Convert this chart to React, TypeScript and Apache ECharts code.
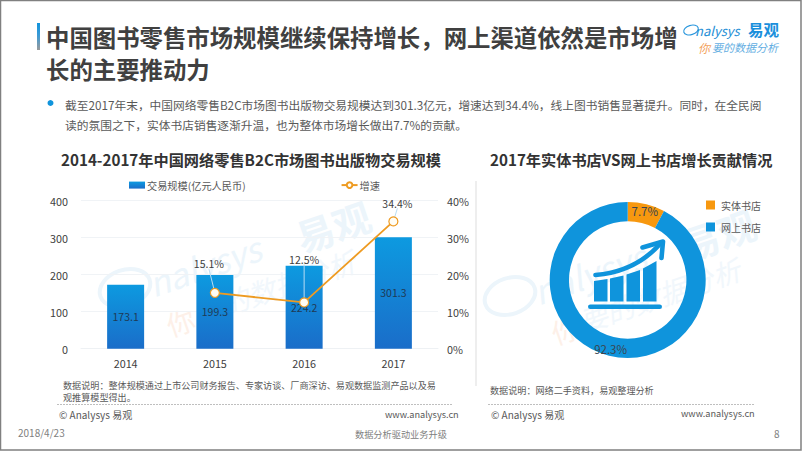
import React, { useEffect, useRef } from "react";
import * as echarts from "echarts";

const FONT = '"Noto Sans CJK SC", "Noto Sans", sans-serif';

const years = ["2014", "2015", "2016", "2017"];
const scaleValues = [173.1, 199.3, 224.2, 301.3];
const growthValues = [null, 15.1, 12.5, 34.4];
const barName = "交易规模(亿元人民币)";
const lineName = "增速";
const shareNames = ["实体书店", "网上书店"];
const shareValues = [7.7, 92.3];
const leftTicks = [0, 400, 100];
const rightTicks = [0, 40, 10];
const pageTitle = "中国图书零售市场规模继续保持增长，网上渠道依然是市场增\n长的主要推动力";
const bulletLine1 = "截至2017年末，中国网络零售B2C市场图书出版物交易规模达到301.3亿元，增速达到34.4%，线上图书销售显著提升。同时，在全民阅";
const bulletLine2 = "读的氛围之下，实体书店销售逐渐升温，也为整体市场增长做出7.7%的贡献。";
const leftTitle = "2014-2017年中国网络零售B2C市场图书出版物交易规模";
const rightTitle = "2017年实体书店VS网上书店增长贡献情况";
const leftNote1 = "数据说明：整体规模通过上市公司财务报告、专家访谈、厂商深访、易观数据监测产品以及易";
const leftNote2 = "观推算模型得出。";
const rightNote = "数据说明：网络二手资料，易观整理分析";
const copyright = "© Analysys 易观";
const website = "www.analysys.cn";
const dateText = "2018/4/23";
const sloganText = "数据分析驱动业务升级";
const pageNumber = "8";

const txt = (x: number, y: number, text: string, fontSize: number, fill: string, extra: any = {}) => ({
  type: "text",
  x,
  y,
  silent: true,
  ...extra.el,
  style: { text, fontSize, fill, fontFamily: FONT, textVerticalAlign: "middle", textBaseline: "middle", ...extra.style },
});

const watermark = (ox: number, oy: number) => {
  const rot = 0.33;
  const blue = "#ecf5fb";
  const pale = "#f1f7fc";
  return [
    { type: "ellipse", x: ox, y: oy, rotation: rot, silent: true, z: -1, shape: { cx: 0, cy: 0, rx: 26, ry: 18 }, style: { fill: "none", stroke: blue, lineWidth: 4 } },
    txt(ox + 24, oy - 4, "nalysys", 34, blue, { el: { rotation: rot, z: -1 }, style: { fontStyle: "italic" } }),
    txt(ox + 172, oy - 50, "易观", 38, blue, { el: { rotation: rot, z: -1 }, style: { fontWeight: "bold" } }),
    txt(ox + 42, oy + 38, "你", 28, "#fdf0e8", { el: { rotation: rot, z: -1 } }),
    txt(ox + 70, oy + 26, "要的数据分析", 28, pale, { el: { rotation: rot, z: -1 }, style: { fontStyle: "italic" } }),
  ];
};

export default function App() {
  const ref = useRef<HTMLDivElement>(null);
  useEffect(() => {
    document.body.style.margin = "0";
    const chart = echarts.init(ref.current!, undefined, { renderer: "svg" });
    const barGrad = new echarts.graphic.LinearGradient(0, 0, 0, 1, [
      { offset: 0, color: "#0d9ae0" },
      { offset: 1, color: "#1a6dc9" },
    ]);
    const labelShift = [
      { dx: 0, dy: 0 },
      { dx: -6, dy: -13 },
      { dx: 0, dy: -27 },
      { dx: 4, dy: -2 },
    ];
    const iconBlue = "#0f94dc";
    const icon = { z: 10, silent: true };
    chart.setOption({
      animation: false,
      backgroundColor: "#ffffff",
      textStyle: { fontFamily: FONT },
      title: [
        { text: pageTitle, left: 46, top: 21, padding: 0, textStyle: { fontFamily: FONT, fontSize: 23.4, fontWeight: "bold", color: "#404040", lineHeight: 32 } },
        { text: leftTitle, left: 61, top: 151, padding: 0, textStyle: { fontFamily: FONT, fontSize: 15.2, fontWeight: "bold", color: "#333333" } },
        { text: rightTitle, left: 490, top: 151, padding: 0, textStyle: { fontFamily: FONT, fontSize: 15.2, fontWeight: "bold", color: "#333333" } },
      ],
      legend: [
        {
          data: [
            { name: barName, icon: "rect" },
            { name: lineName },
          ],
          left: 129,
          top: 180,
          itemWidth: 16,
          itemHeight: 7,
          itemGap: 95,
          padding: 0,
          textStyle: { fontFamily: FONT, fontSize: 10.2, color: "#595959", padding: [0, 0, 0, -3] },
        },
        {
          data: shareNames,
          orient: "vertical",
          left: 706,
          top: 200,
          icon: "rect",
          itemWidth: 9,
          itemHeight: 9,
          itemGap: 12,
          padding: 0,
          textStyle: { fontFamily: FONT, fontSize: 10, color: "#595959", padding: [0, 0, 0, 1] },
        },
      ],
      grid: { left: 81, top: 200.7, width: 357, height: 148 },
      xAxis: {
        type: "category",
        data: years,
        axisLine: { lineStyle: { color: "#eef1f4" } },
        axisTick: { show: false },
        axisLabel: { fontFamily: FONT, fontSize: 10.8, color: "#404040", margin: 9 },
      },
      yAxis: [
        {
          type: "value",
          min: leftTicks[0],
          max: leftTicks[1],
          interval: leftTicks[2],
          axisLine: { show: false },
          axisTick: { show: false },
          splitLine: { lineStyle: { color: "#f0f3f6" } },
          axisLabel: { fontFamily: FONT, fontSize: 10.8, color: "#404040", margin: 13 },
        },
        {
          type: "value",
          min: rightTicks[0],
          max: rightTicks[1],
          interval: rightTicks[2],
          axisLine: { show: false },
          axisTick: { show: false },
          splitLine: { show: false },
          axisLabel: { fontFamily: FONT, fontSize: 10.8, color: "#404040", margin: 9, formatter: "{value}%" },
        },
      ],
      series: [
        {
          name: barName,
          type: "bar",
          data: scaleValues,
          barWidth: 37,
          z: 2,
          itemStyle: { color: barGrad },
          label: { show: true, position: "inside", fontFamily: FONT, fontSize: 10.5, color: "#1f3a55", formatter: (p: any) => p.value.toFixed(1) },
        },
        {
          name: lineName,
          type: "line",
          yAxisIndex: 1,
          data: growthValues,
          z: 4,
          symbol: "circle",
          symbolSize: 9,
          connectNulls: false,
          lineStyle: { color: "#ee9b22", width: 1.8 },
          itemStyle: { color: "#fffdf5", borderColor: "#ee9b22", borderWidth: 1.2 },
          label: { show: true, position: "top", distance: 6, fontFamily: FONT, fontSize: 10.5, color: "#404040", formatter: (p: any) => `${p.value}%` },
          labelLine: { show: true, lineStyle: { color: "#b8ddf4", width: 1 } },
          labelLayout: (p: any) => labelShift[p.dataIndex],
        },
        {
          type: "pie",
          center: [627.7, 280],
          radius: [58.7, 78],
          startAngle: 90,
          data: shareNames.map((name, i) => ({ name, value: shareValues[i] })),
          color: ["#f7980f", "#0f94dc"],
          z: 3,
          label: { show: true, position: "inside", fontFamily: FONT, fontSize: 11.5, color: "#3a4650", formatter: (p: any) => `${p.value}%` },
          labelLine: { show: false },
          itemStyle: { borderWidth: 0 },
        },
      ],
      graphic: [
        { type: "rect", silent: true, shape: { x: 0.5, y: 0.5, width: 800.5, height: 449.5 }, style: { fill: "none", stroke: "#808080", lineWidth: 1.5 } },
        ...watermark(125, 288),
        ...watermark(510, 296),
        {
          type: "rect",
          silent: true,
          shape: { x: 37, y: 23, width: 3, height: 27 },
          style: {
            fill: new echarts.graphic.LinearGradient(0, 0, 0, 1, [
              { offset: 0, color: "#1094dc" },
              { offset: 0.45, color: "#3a9ad6" },
              { offset: 1, color: "#9a9a9a" },
            ]),
          },
        },
        // logo
        { type: "ellipse", silent: true, x: 691, y: 30, rotation: 0.3, shape: { cx: 0, cy: 0, rx: 7.5, ry: 4.6 }, style: { fill: "none", stroke: "#2a97dd", lineWidth: 1.1 } },
        txt(695, 30, "nalysys", 13, "#1f8fd6", { style: { fontStyle: "italic" } }),
        txt(748, 29, "易观", 15.5, "#1a8fdc", { style: { fontWeight: "bold" } }),
        txt(698, 47, "你", 12, "#f3a25c", { style: { fontStyle: "italic" } }),
        txt(712, 47, "要的数据分析", 11, "#63aee2", { style: { fontStyle: "italic" } }),
        // bullet
        { type: "circle", silent: true, shape: { cx: 50.5, cy: 103, r: 3 }, style: { fill: "#1094dc" } },
        txt(65, 104, bulletLine1, 11.72, "#595959"),
        txt(65, 124, bulletLine2, 11.72, "#595959"),
        // divider
        { type: "rect", silent: true, shape: { x: 475, y: 181, width: 2, height: 205 }, style: { fill: "#eeeeee" } },
        // notes
        txt(63, 384.5, leftNote1, 9.1, "#595959"),
        txt(63, 396.5, leftNote2, 9.1, "#595959"),
        txt(490, 390, rightNote, 9.1, "#595959"),
        { type: "line", silent: true, shape: { x1: 57, y1: 404.5, x2: 453, y2: 404.5 }, style: { stroke: "#bfbfbf", lineWidth: 1, lineDash: [2, 1] } },
        { type: "line", silent: true, shape: { x1: 488, y1: 404.5, x2: 755, y2: 404.5 }, style: { stroke: "#bfbfbf", lineWidth: 1, lineDash: [2, 1] } },
        txt(59, 414, copyright, 10, "#595959"),
        txt(385, 414, website, 9.2, "#595959"),
        txt(491, 414, copyright, 10, "#595959"),
        txt(681, 413, website, 9.2, "#595959"),
        txt(18, 432, dateText, 10, "#808080"),
        txt(355, 434, sloganText, 9.2, "#808080"),
        txt(774, 433, pageNumber, 10, "#808080"),
        // donut icon
        { type: "rect", ...icon, shape: { x: 588, y: 304.5, width: 74, height: 4.6, r: 2.3 }, style: { fill: iconBlue } },
        { type: "polygon", ...icon, shape: { points: [[594, 281], [607.5, 279], [607.5, 301.5], [594, 301.5]] }, style: { fill: iconBlue } },
        { type: "polygon", ...icon, shape: { points: [[610, 278.5], [623.5, 275.5], [623.5, 301.5], [610, 301.5]] }, style: { fill: iconBlue } },
        { type: "polygon", ...icon, shape: { points: [[626.5, 274.5], [640, 270], [640, 301.5], [626.5, 301.5]] }, style: { fill: iconBlue } },
        { type: "polygon", ...icon, shape: { points: [[643, 268.5], [656.5, 261], [656.5, 301.5], [643, 301.5]] }, style: { fill: iconBlue } },
        { type: "bezierCurve", ...icon, shape: { x1: 595.5, y1: 275, x2: 660, y2: 244, cpx1: 620, cpy1: 273, cpx2: 643, cpy2: 263 }, style: { fill: "none", stroke: iconBlue, lineWidth: 4.6, lineCap: "round" } },
        { type: "polyline", ...icon, shape: { points: [[642.5, 247.5], [663, 241.5], [661.5, 258]] }, style: { fill: "none", stroke: iconBlue, lineWidth: 4.6, lineCap: "round", lineJoin: "round" } },
      ],
    });
    return () => chart.dispose();
  }, []);
  return <div ref={ref} style={{ position: "absolute", left: 0, top: 0, width: 802, height: 451 }} />;
}
